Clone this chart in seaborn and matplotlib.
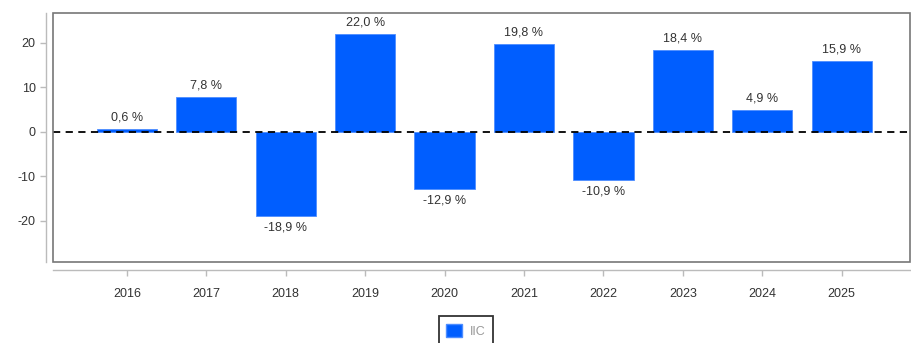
import matplotlib
matplotlib.use("Agg")
import matplotlib.pyplot as plt
import seaborn as sns
import pandas as pd
from matplotlib.patches import Rectangle, Patch

years = ["2016", "2017", "2018", "2019", "2020", "2021", "2022", "2023", "2024", "2025"]
returns = [0.6, 7.8, -18.9, 22.0, -12.9, 19.8, -10.9, 18.4, 4.9, 15.9]
series_name = "IIC"
yticks = [-20, -10, 0, 10, 20]

BAR = "#005EFF"
TXT = "#333333"

sns.set_style("white")
plt.rcParams["font.family"] = ["Liberation Sans", "DejaVu Sans"]
plt.rcParams["axes.unicode_minus"] = False

df = pd.DataFrame({"year": years, "ret": returns})

fig = plt.figure(figsize=(9.11, 3.43), dpi=100)
ax = fig.add_axes([53 / 911, 1 - 262 / 343, 857 / 911, 249 / 343])

sns.barplot(data=df, x="year", y="ret", color=BAR, width=0.76,
            saturation=1, ax=ax, zorder=2, edgecolor="#4d8dff", linewidth=0.6)

ax.axhline(0, color="black", lw=1.3, ls=(0, (4, 3)), zorder=3)

for i, v in enumerate(returns):
    lbl = f"{v:.1f}".replace(".", ",") + " %"
    off = 1.2 if v >= 0 else -1.2
    ax.text(i, v + off, lbl, ha="center", va="bottom" if v >= 0 else "top",
            fontsize=9, color=TXT)

ax.set_xlim(-0.93, 9.86)
ax.set_ylim(-29.3, 26.7)
ax.set_yticks(yticks)
ax.set_xlabel("")
ax.set_ylabel("")

# box around the plot area
ax.add_patch(Rectangle((0, 0), 1, 1, transform=ax.transAxes, fill=False,
                       edgecolor="#777777", lw=1.2, clip_on=False, zorder=5))

for s in ["top", "right"]:
    ax.spines[s].set_visible(False)
ax.spines["left"].set_position(("outward", 5))
ax.spines["bottom"].set_position(("outward", 6))
for s in ["left", "bottom"]:
    ax.spines[s].set_color("#bbbbbb")
    ax.spines[s].set_linewidth(1.0)

ax.tick_params(axis="both", bottom=True, left=True, colors="#bbbbbb",
               labelcolor=TXT, labelsize=9, length=4, width=1, direction="out")
ax.tick_params(axis="x", pad=9)

handles = [Patch(facecolor=BAR, edgecolor="#4d8dff", label=series_name)]
leg = fig.legend(handles=handles, loc="upper center", bbox_to_anchor=(466 / 911, 1 - 310 / 343),
                 frameon=True, fancybox=False, fontsize=9, handlelength=1.3,
                 handleheight=1.3, handletextpad=0.6, borderpad=0.6)
leg.get_frame().set_edgecolor("black")
leg.get_frame().set_linewidth(1.3)
for t in leg.get_texts():
    t.set_color("#999999")

fig.savefig("out.png", dpi=100)
